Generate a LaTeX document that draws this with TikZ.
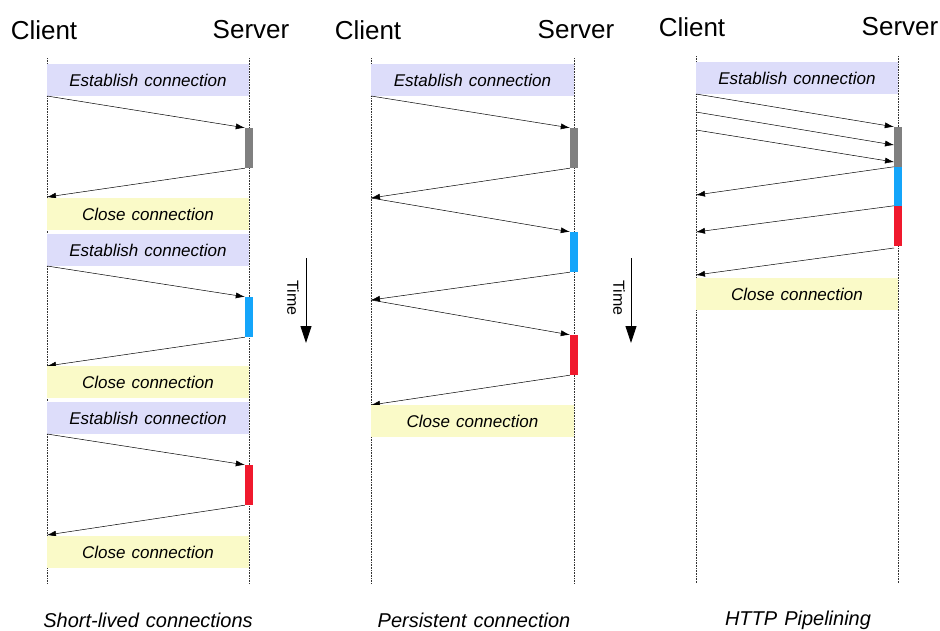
\documentclass[tikz,border=0pt]{standalone}
\usepackage{fontspec}
\setmainfont{Liberation Sans}
\usetikzlibrary{arrows.meta}
\definecolor{estc}{RGB}{221,221,250}
\definecolor{closec}{RGB}{250,250,200}
\definecolor{barg}{RGB}{128,128,128}
\definecolor{barb}{RGB}{20,165,250}
\definecolor{barr}{RGB}{240,25,45}
\newcommand\myboxfont{\fontsize{17}{19}\selectfont\itshape\spaceskip=6pt\relax}
\newcommand\mycapfont{\fontsize{20}{24}\selectfont\itshape\spaceskip=7pt\relax}
\begin{document}
\begin{tikzpicture}[x=1pt,y=-1pt,
  lifeline/.style={densely dotted, line width=0.6pt, black!80},
  estbox/.style={fill=estc, minimum width=202pt, minimum height=32pt, inner sep=0pt, font=\myboxfont},
  closebox/.style={fill=closec, minimum width=202pt, minimum height=32pt, inner sep=0pt, font=\myboxfont},
  actbar/.style={minimum width=8pt, minimum height=40pt, inner sep=0pt},
  msg/.style={line width=0.5pt, -{Latex[length=9pt,width=6pt]}},
  head/.style={font=\fontsize{26}{30}\selectfont},
  caption/.style={font=\mycapfont},
  timearrow/.style={line width=0.9pt, -{Triangle[length=17pt,width=11pt]}},
  timelabel/.style={font=\fontsize{16}{18}\selectfont, rotate=-90}
]
\useasboundingbox (0,0) rectangle (940,630);
% ---------- Column 1: short-lived ----------
\node[head] (cl1) at (44,30) {Client};
\node[head] (sv1) at (251,30) {Server};
\coordinate (l1t) at (47,58); \coordinate (l1b) at (47,583);
\coordinate (r1t) at (249,58); \coordinate (r1b) at (249,583);
\draw[lifeline] (l1t) -- (l1b);
\draw[lifeline] (r1t) -- (r1b);
\node[estbox] (e1a) at (148,80) {Establish connection};
\node[actbar, fill=barg] (b1a) at (249,148) {};
\coordinate (s1a) at (47,96); \coordinate (d1a) at (47,197);
\draw[msg] (s1a) -- (b1a.north west);
\draw[msg] (b1a.south west) -- (d1a);
\node[closebox] (c1a) at (148,214) {Close connection};
\node[estbox] (e1b) at (148,250) {Establish connection};
\node[actbar, fill=barb] (b1b) at (249,317) {};
\coordinate (s1b) at (47,266); \coordinate (d1b) at (47,366);
\draw[msg] (s1b) -- (b1b.north west);
\draw[msg] (b1b.south west) -- (d1b);
\node[closebox] (c1b) at (148,382) {Close connection};
\node[estbox] (e1c) at (148,418) {Establish connection};
\node[actbar, fill=barr] (b1c) at (249,485) {};
\coordinate (s1c) at (47,434); \coordinate (d1c) at (47,535);
\draw[msg] (s1c) -- (b1c.north west);
\draw[msg] (b1c.south west) -- (d1c);
\node[closebox] (c1c) at (148,552) {Close connection};
\node[caption] (cap1) at (148,620) {Short-lived connections};
% time arrow 1
\coordinate (t1a) at (306,258); \coordinate (t1b) at (306,343);
\draw[timearrow] (t1a) -- (t1b);
\node[timelabel] (tl1) at (293,298) {Time};
% ---------- Column 2: persistent ----------
\node[head] (cl2) at (368,30) {Client};
\node[head] (sv2) at (576,30) {Server};
\coordinate (l2t) at (371,58); \coordinate (l2b) at (371,583);
\coordinate (r2t) at (574,58); \coordinate (r2b) at (574,583);
\draw[lifeline] (l2t) -- (l2b);
\draw[lifeline] (r2t) -- (r2b);
\node[estbox, minimum width=203pt] (e2) at (472.5,80) {Establish connection};
\node[actbar, fill=barg] (b2a) at (574,148) {};
\node[actbar, fill=barb] (b2b) at (574,252) {};
\node[actbar, fill=barr] (b2c) at (574,355) {};
\coordinate (s2a) at (371,96);
\coordinate (m2a) at (371,198);
\coordinate (m2b) at (371,300);
\coordinate (d2) at (371,405);
\draw[msg] (s2a) -- (b2a.north west);
\draw[msg] (b2a.south west) -- (m2a);
\draw[msg] (m2a) -- (b2b.north west);
\draw[msg] (b2b.south west) -- (m2b);
\draw[msg] (m2b) -- (b2c.north west);
\draw[msg] (b2c.south west) -- (d2);
\node[closebox, minimum width=203pt] (c2) at (472.5,421) {Close connection};
\node[caption] (cap2) at (474,620) {Persistent connection};
% time arrow 2
\coordinate (t2a) at (631,258); \coordinate (t2b) at (631,343);
\draw[timearrow] (t2a) -- (t2b);
\node[timelabel] (tl2) at (619,298) {Time};
% ---------- Column 3: pipelining ----------
\node[head] (cl3) at (692,27) {Client};
\node[head] (sv3) at (900,27) {Server};
\coordinate (l3t) at (696,56); \coordinate (l3b) at (696,583);
\coordinate (r3t) at (898,56); \coordinate (r3b) at (898,583);
\draw[lifeline] (l3t) -- (l3b);
\draw[lifeline] (r3t) -- (r3b);
\node[estbox] (e3) at (797,78) {Establish connection};
\node[actbar, fill=barg] (b3a) at (898,147) {};
\node[actbar, fill=barb, minimum height=39pt] (b3b) at (898,186.5) {};
\node[actbar, fill=barr] (b3c) at (898,226) {};
\coordinate (s3a) at (696,94);
\coordinate (s3b) at (696,112);
\coordinate (s3c) at (696,130);
\coordinate (h3a) at (894,145);
\coordinate (h3b) at (894,162);
\coordinate (d3a) at (696,195);
\coordinate (d3b) at (696,232);
\coordinate (d3c) at (696,275);
\coordinate (o3c) at (894,248);
\draw[msg] (s3a) -- (b3a.north west);
\draw[msg] (s3b) -- (h3a);
\draw[msg] (s3c) -- (h3b);
\draw[msg] (b3b.north west) -- (d3a);
\draw[msg] (b3c.north west) -- (d3b);
\draw[msg] (o3c) -- (d3c);
\node[closebox] (c3) at (797,294) {Close connection};
\node[caption] (cap3) at (798,620) {HTTP Pipelining};
\end{tikzpicture}
\end{document}
